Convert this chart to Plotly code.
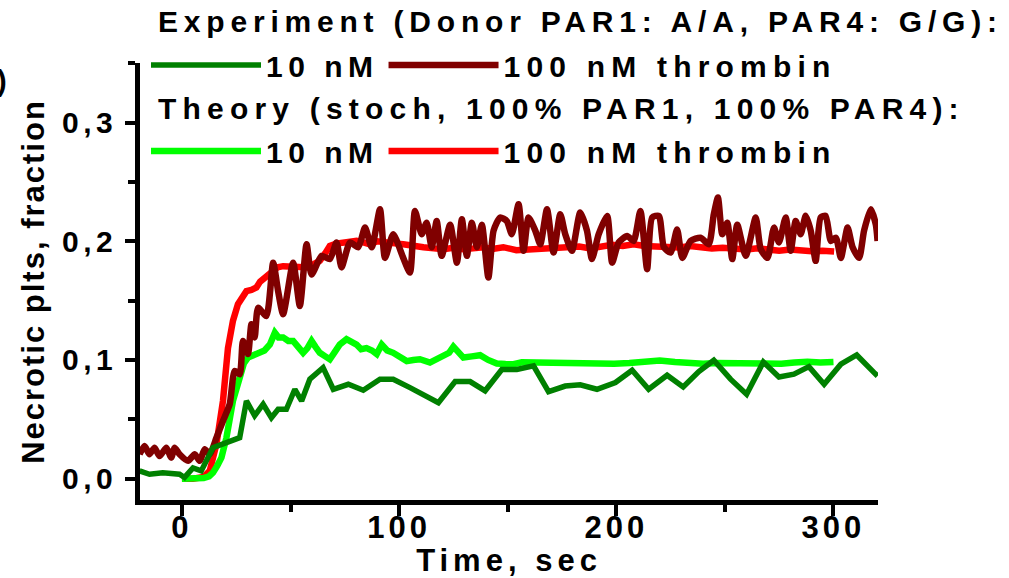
import plotly.graph_objects as go

# ---- Experiment, donor PAR1 A/A, PAR4 G/G ----
exp10_t = [-19.5, -14.9, -8.8, -1.1, 1.2, 5.1, 8.9, 14.3, 26.6, 29.7, 33.5, 37.4, 41.2,
           44.3, 48.1, 52.0, 55.1, 58.9, 65.0, 69.7, 76.6, 83.5, 91.2, 97.3, 105.0,
           111.2, 118.1, 125.8, 132.7, 139.6, 147.3, 154.2, 161.9, 168.8, 176.5,
           183.4, 191.1, 199.6, 207.3, 214.9, 223.4, 230.8, 238.0, 244.9, 252.6,
           260.0, 267.7, 274.9, 281.8, 288.7, 295.7, 303.4, 310.7, 318.7, 320.3]
exp10_v = [0.0065, 0.0037, 0.005, 0.0037, 0.001, 0.009, 0.0065, 0.026, 0.0345, 0.0655,
           0.053, 0.0627, 0.0514, 0.0585, 0.0585, 0.0753, 0.0655, 0.0838, 0.0935,
           0.0753, 0.0795, 0.0745, 0.0838, 0.0838, 0.0767, 0.071, 0.064, 0.0818,
           0.0818, 0.074, 0.092, 0.092, 0.095, 0.0733, 0.078, 0.079, 0.0753, 0.081,
           0.0913, 0.0753, 0.0871, 0.0773, 0.0902, 0.0998, 0.0838, 0.0711, 0.0983,
           0.0857, 0.088, 0.0944, 0.0795, 0.0964, 0.1042, 0.0893, 0.0865]

exp100_t = [-19.5, -17.2, -15.0, -12.6, -10.3, -7.2, -4.9, -3.4, -1.1, 2.8, 5.9, 8.2,
            10.5, 12.8, 15.9, 18.9, 22.0, 24.3, 26.6, 28.1, 30.4, 32.0, 33.5, 35.1,
            38.9, 42.0, 44.3, 46.6, 51.2, 54.3, 57.4, 59.7, 64.3, 68.1, 71.2, 73.5,
            77.4, 81.2, 84.3, 87.4, 91.2, 93.5, 97.3, 101.9, 105.0, 107.3, 110.4,
            112.7, 115.0, 117.3, 119.6, 123.5, 126.6, 128.9, 131.2, 133.5, 135.8,
            138.1, 141.1, 143.5, 146.5, 149.6, 151.9, 155.0, 157.3, 159.6, 162.7,
            165.0, 168.1, 171.1, 174.2, 176.5, 179.6, 183.4, 186.5, 188.8, 191.9,
            195.8, 198.1, 201.1, 205.0, 208.0, 211.1, 214.2, 216.5, 219.6, 221.9,
            225.0, 228.0, 230.4, 234.2, 238.8, 242.6, 244.9, 246.8, 248.8, 251.1,
            253.4, 255.7, 259.6, 264.2, 266.5, 269.6, 272.6, 274.9, 278.0, 280.3,
            282.6, 284.9, 287.2, 289.5, 291.8, 294.1, 296.4, 298.8, 301.1, 303.4,
            306.5, 308.8, 311.8, 314.1, 317.2, 319.5, 320.3]
exp100_v = [0.0206, 0.0276, 0.0206, 0.026, 0.019, 0.026, 0.0177, 0.026, 0.0206, 0.015,
            0.0206, 0.015, 0.0248, 0.0206, 0.0345, 0.0486, 0.0627, 0.0908, 0.088,
            0.116, 0.105, 0.130, 0.119, 0.144, 0.137, 0.182, 0.158, 0.1385, 0.182,
            0.1455, 0.1975, 0.172, 0.1877, 0.185, 0.199, 0.178, 0.199, 0.195, 0.2115,
            0.195, 0.227, 0.186, 0.206, 0.186, 0.1736, 0.2256, 0.206, 0.2157, 0.195,
            0.217, 0.1877, 0.214, 0.182, 0.2185, 0.1877, 0.2157, 0.195, 0.214, 0.1694,
            0.209, 0.22, 0.217, 0.206, 0.2312, 0.192, 0.22, 0.209, 0.1975, 0.227,
            0.1905, 0.2228, 0.206, 0.192, 0.2242, 0.209, 0.185, 0.206, 0.2214, 0.182,
            0.199, 0.2045, 0.2003, 0.2256, 0.1765, 0.22, 0.2214, 0.195, 0.1905, 0.21,
            0.186, 0.2003, 0.203, 0.1975, 0.2228, 0.2368, 0.206, 0.2157, 0.185, 0.214,
            0.1877, 0.22, 0.1933, 0.186, 0.2115, 0.199, 0.22, 0.192, 0.217, 0.206,
            0.2214, 0.209, 0.1835, 0.22, 0.2214, 0.2003, 0.203, 0.186, 0.2115, 0.195,
            0.186, 0.209, 0.227, 0.214, 0.2003]

# ---- Stochastic model, 100% PAR1, 100% PAR4 ----
th10_t = [0, 5, 10, 12.5, 14.3, 16.3, 18.2, 20.5, 23.5, 26.6, 28.5, 30.4, 33, 35.8, 38,
          40.5, 42.8, 44.5, 46.6, 49, 51.2, 53.5, 55.8, 57.8, 59.7, 61.5, 63.5, 66,
          68.1, 70.5, 72.7, 75.8, 78, 80.4, 82.5, 85, 87.5, 89.7, 92, 94.5, 97.3,
          100.5, 103.5, 106.5, 109.6, 114.2, 117.5, 120.4, 123, 125, 127.5, 129.6,
          133.5, 137.3, 141, 145, 149, 152.7, 156.5, 160.4, 166, 172, 178, 185, 192,
          199, 206, 213, 220, 227, 234, 240, 246, 252, 258, 264, 270, 276, 282, 288,
          294, 300]
th10_v = [0, 0, 0.0005, 0.002, 0.005, 0.011, 0.0177, 0.0345, 0.0655, 0.085, 0.097,
          0.102, 0.104, 0.106, 0.108, 0.113, 0.123, 0.119, 0.119, 0.116, 0.116, 0.111,
          0.106, 0.11, 0.116, 0.111, 0.106, 0.103, 0.1006, 0.107, 0.113, 0.1175,
          0.115, 0.113, 0.109, 0.110, 0.108, 0.105, 0.113, 0.108, 0.106, 0.102, 0.099,
          0.1, 0.1006, 0.0978, 0.101, 0.1034, 0.106, 0.1112, 0.105, 0.102, 0.103,
          0.104, 0.1, 0.097, 0.0965, 0.0964, 0.098, 0.0978, 0.0988, 0.0985, 0.0975,
          0.0969, 0.0966, 0.0968, 0.0975, 0.0985, 0.0995, 0.0982, 0.0972, 0.0969,
          0.0975, 0.0972, 0.0968, 0.0975, 0.0972, 0.0969, 0.0978, 0.0985, 0.0978,
          0.0983]

th100_t = [0, 5, 10, 12.8, 15.9, 18.9, 21.2, 23.5, 25.8, 27.5, 29.7, 32, 34.3, 36, 38.1,
           40, 42, 44, 46.6, 50, 52.8, 56, 58.9, 61, 63.5, 66, 68.1, 71, 74.3, 77, 80.4,
           83.5, 86.5, 90, 93, 95.8, 99, 101.9, 106, 111.2, 116, 120.4, 125, 129.6,
           134, 138.8, 143, 148, 154, 160.4, 166, 172, 177.3, 183, 188, 192.7, 198,
           203, 208, 213, 218, 223.4, 229, 234, 238.8, 244, 249, 254.2, 260, 265,
           269.6, 275, 280, 284.9, 290, 295, 300.3]
th100_v = [0, 0, 0.0015, 0.0065, 0.029, 0.0655, 0.110, 0.133, 0.147, 0.152, 0.158,
           0.159, 0.161, 0.166, 0.1694, 0.173, 0.1765, 0.178, 0.179, 0.179, 0.179,
           0.178, 0.178, 0.181, 0.1835, 0.19, 0.196, 0.198, 0.199, 0.2, 0.2003, 0.199,
           0.1975, 0.2, 0.199, 0.199, 0.198, 0.1975, 0.196, 0.195, 0.194, 0.1933,
           0.1945, 0.1933, 0.194, 0.195, 0.1935, 0.195, 0.1925, 0.1933, 0.1945, 0.194,
           0.195, 0.1955, 0.194, 0.196, 0.197, 0.196, 0.1975, 0.196, 0.1955, 0.195,
           0.1948, 0.196, 0.195, 0.194, 0.1945, 0.1933, 0.193, 0.194, 0.1925, 0.192,
           0.193, 0.192, 0.1915, 0.192, 0.1913]

x_ticks = [0, 100, 200, 300]
x_tick_labels = ["0", "100", "200", "300"]
y_ticks = [0.0, 0.1, 0.2, 0.3]
y_tick_labels = ["0,0", "0,1", "0,2", "0,3"]

exp_header = "Experiment (Donor PAR1: A/A, PAR4: G/G):"
theory_header = "Theory (stoch, 100% PAR1, 100% PAR4):"
name_10 = "10 nM"
name_100 = "100 nM thrombin"

FONT = "Liberation Sans, Arial, sans-serif"
BOLD30 = dict(family=FONT, size=30, color="black", weight="bold")

# plot area in pixels: x 140..878, y 63..500
PL, PW, PT, PH = 140, 738, 63, 437


def spaced(text, px):
    return f"<span style='letter-spacing:{px}px'>{text}</span>"


def px_x(x):
    return (x - PL) / PW


def px_y(y):
    return (PT + PH - y) / PH


fig = go.Figure()

fig.add_trace(go.Scatter(x=th100_t, y=th100_v, mode="lines", name=spaced(name_100, 6.2),
                         line=dict(color="#ff0000", width=6.5), legend="legend2"))
fig.add_trace(go.Scatter(x=th10_t, y=th10_v, mode="lines", name=spaced(name_10, 5.5),
                         line=dict(color="#00ff00", width=6.5), legend="legend2"))
fig.add_trace(go.Scatter(x=exp100_t, y=exp100_v, mode="lines", name=spaced(name_100, 6.2),
                         line=dict(color="#800000", width=6.5, shape="spline", smoothing=0.6),
                         legend="legend"))
fig.add_trace(go.Scatter(x=exp10_t, y=exp10_v, mode="lines", name=spaced(name_10, 5.5),
                         line=dict(color="#008000", width=5.5), legend="legend"))

legend_common = dict(
    orientation="h", xanchor="left", yanchor="middle", xref="paper", yref="paper",
    bgcolor="rgba(0,0,0,0)", borderwidth=0, itemwidth=110, traceorder="reversed",
    font=BOLD30, itemclick=False, itemdoubleclick=False,
)

fig.update_layout(
    width=1009, height=578,
    margin=dict(l=PL, r=1009 - PL - PW, t=PT, b=578 - PT - PH, autoexpand=False),
    paper_bgcolor="white", plot_bgcolor="white",
    separators=", ",
    font=BOLD30,
    legend=dict(x=px_x(146), y=px_y(65), **legend_common),
    legend2=dict(x=px_x(146), y=px_y(151), **legend_common),
    xaxis=dict(
        range=[-19.3, 320.5], showgrid=False, zeroline=False,
        showline=True, linecolor="black", linewidth=4.5,
        ticks="outside", ticklen=11, tickwidth=4, tickcolor="black",
        tickvals=x_ticks, ticktext=[spaced(t, 4) for t in x_tick_labels],
        tickfont=dict(family=FONT, size=31, weight="bold"),
        ticklabelstandoff=-15,
        minor=dict(tickvals=[50, 150, 250], ticks="outside", ticklen=7, tickwidth=4,
                   tickcolor="black"),
        title=dict(text=spaced("Time, sec", 5), font=dict(family=FONT, size=31, weight="bold"),
                   standoff=11),
    ),
    yaxis=dict(
        range=[-0.018, 0.3502], showgrid=False, zeroline=False,
        showline=True, linecolor="black", linewidth=4.5,
        ticks="outside", ticklen=10, tickwidth=4, tickcolor="black",
        tickvals=y_ticks, ticktext=[spaced(t, 4.5) for t in y_tick_labels],
        tickfont=dict(family=FONT, size=30, weight="bold"),
        ticklabelstandoff=2,
        minor=dict(tickvals=[0.05, 0.15, 0.25, 0.35], ticks="outside", ticklen=7,
                   tickwidth=4, tickcolor="black"),
        title=dict(text=spaced("Necrotic plts, fraction", 2),
                   font=dict(family=FONT, size=31, weight="bold"), standoff=10),
    ),
)

# group headings above each legend row
for text, y, gap in [(exp_header, 22, 5.8), (theory_header, 108, 6.2)]:
    fig.add_annotation(text=spaced(text, gap), xref="paper", yref="paper",
                       x=px_x(156), y=px_y(y), xanchor="left", yanchor="middle",
                       showarrow=False, font=BOLD30)

fig.add_annotation(text="B)", xref="paper", yref="paper", x=px_x(9),
                   y=px_y(80), xanchor="right", yanchor="middle", showarrow=False,
                   font=BOLD30)

fig.write_html("out.html")
